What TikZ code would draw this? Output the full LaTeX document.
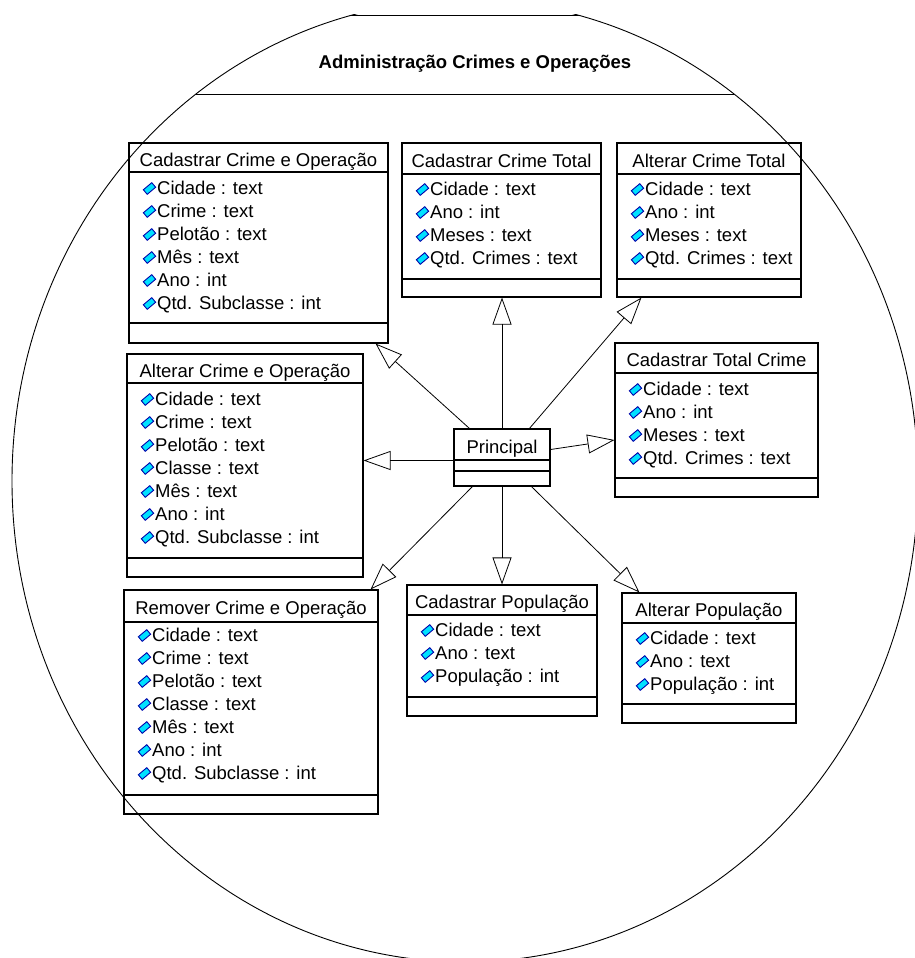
\documentclass[tikz,border=0pt]{standalone}
\usepackage{fontspec}
\setmainfont{Liberation Sans}
\usetikzlibrary{arrows.meta,calc,fit}

\definecolor{iconfill}{RGB}{0,225,255}
\definecolor{iconedge}{RGB}{0,0,170}

\newcommand{\umlfont}{\fontsize{18.5}{22}\selectfont}

\tikzset{
  x=1pt, y=-1pt,
  boxline/.style={line width=1.1pt, draw=black},
  classbox/.style={draw=black, line width=1.1pt, inner sep=0pt},
  headtext/.style={inner sep=0pt, font=\umlfont, text height=13.2pt, text depth=0pt, anchor=center},
  attrtext/.style={inner sep=0pt, font=\umlfont, text height=13.2pt, text depth=0pt, anchor=west},
  titletext/.style={inner sep=0pt, font=\umlfont\bfseries, text height=13.2pt, text depth=0pt, anchor=center},
  pkgline/.style={line width=0.9pt, draw=black},
  gen/.style={line width=0.8pt, -{Triangle[open, length=27pt, width=19pt]}},
  attricon/.pic={
    \draw[fill=iconfill, draw=iconedge, line width=0.9pt, rotate=40]
      (-5.5,-3) rectangle (5.5,3);
  }
}

% class box: name, left, top, right, header rule, operations rule, bottom, title
\newcommand{\umlbox}[8]{%
  \node[classbox, fit={(#2,#3) (#4,#7)}] (#1) {};
  \draw[boxline] (#2,#5) -- (#4,#5);
  \draw[boxline] (#2,#6) -- (#4,#6);
  \node[headtext] (#1-title) at ({(#2+#4)/2},{(#3+#5)/2+2}) {#8};
}
% attribute list: name, left, first row, rows
\newcommand{\umlattrs}[4]{%
  \foreach \attrtxt [count=\i from 0] in {#4} {
    \pic at ({#2+20.5},{#3+23*\i+0.5}) {attricon};
    \node[attrtext] (#1-a\i) at ({#2+28},{#3+23*\i}) {\attrtxt};
  }
}

\begin{document}
\begin{tikzpicture}
\useasboundingbox (0,0) rectangle (914,958);
\fill[white] (0,0) rectangle (914,958);

% package outline
\begin{scope}
  \clip (0,15) rectangle (930,970);
  \draw[pkgline] (465,481) ellipse [x radius=453pt, y radius=481pt];
\end{scope}
\begin{scope}
  \clip (465,481) ellipse [x radius=453pt, y radius=481pt];
  \draw[pkgline] (0,15) -- (930,15);
  \draw[pkgline] (0,94) -- (930,94);
\end{scope}
\node[titletext] (title) at (475,62) {Administração Crimes e Operações};

% classes
\umlbox{c1}{129}{143}{388}{172}{323}{343}{Cadastrar Crime e Operação}
\umlattrs{c1}{129}{188}{Cidade : text, Crime : text, Pelotão : text, Mês : text, Ano : int, Qtd. Subclasse : int}

\umlbox{c2}{127}{354}{363}{383}{558}{577}{Alterar Crime e Operação}
\umlattrs{c2}{127}{399}{Cidade : text, Crime : text, Pelotão : text, Classe : text, Mês : text, Ano : int, Qtd. Subclasse : int}

\umlbox{c3}{124}{590}{378}{622}{795}{814}{Remover Crime e Operação}
\umlattrs{c3}{124}{635}{Cidade : text, Crime : text, Pelotão : text, Classe : text, Mês : text, Ano : int, Qtd. Subclasse : int}

\umlbox{c4}{402}{143}{601}{174}{279}{297}{Cadastrar Crime Total}
\umlattrs{c4}{402}{189}{Cidade : text, Ano : int, Meses : text, Qtd. Crimes : text}

\umlbox{c5}{617}{143}{801}{174}{279}{297}{Alterar Crime Total}
\umlattrs{c5}{617}{189}{Cidade : text, Ano : int, Meses : text, Qtd. Crimes : text}

\umlbox{c6}{615}{343}{818}{373}{478}{497}{Cadastrar Total Crime}
\umlattrs{c6}{615}{389}{Cidade : text, Ano : int, Meses : text, Qtd. Crimes : text}

\umlbox{c8}{407}{585}{597}{615}{697}{716}{Cadastrar População}
\umlattrs{c8}{407}{630}{Cidade : text, Ano : text, População : int}

\umlbox{c9}{622}{593}{796}{623}{704}{723}{Alterar População}
\umlattrs{c9}{622}{638}{Cidade : text, Ano : text, População : int}

\umlbox{p}{454}{429}{550}{460}{471}{486}{Principal}

% generalizations
\draw[gen] ($(p.north west)+(16,0)$) -- ($(c1.south east)+(-13,0)$);
\draw[gen] (p.north) -- (p.north |- c4.south);
\draw[gen] ($(p.north west)+(76,0)$) -- ($(c5.south west)+(25,0)$);
\draw[gen] ($(p.west)+(0,3)$) -- ($(p.west -| c2.east)+(0,3)$);
\draw[gen] ($(p.east)+(0,-8)$) -- ($(c6.west)+(0,20)$);
\draw[gen] ($(p.south west)+(19,0)$) -- ($(c3.north east)+(-8,0)$);
\draw[gen] (p.south) -- (p.south |- c8.north);
\draw[gen] ($(p.south west)+(78,0)$) -- ($(c9.north west)+(18,0)$);
\end{tikzpicture}
\end{document}
